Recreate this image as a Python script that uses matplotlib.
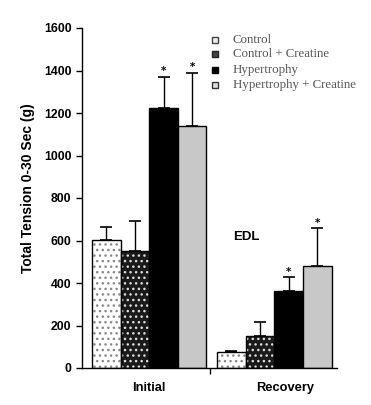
import matplotlib
matplotlib.use("Agg")
import matplotlib.pyplot as plt
from matplotlib.patches import Rectangle

groups = ["Initial", "Recovery"]
series = ["Control", "Control + Creatine", "Hypertrophy", "Hypertrophy + Creatine"]
initial_vals = [602, 552, 1222, 1140]
initial_err = [62, 141, 149, 250]
recovery_vals = [74, 152, 362, 481]
recovery_err = [6, 63, 65, 176]
initial_sig = [False, False, True, True]
recovery_sig = [False, False, True, True]
yticks = [0, 200, 400, 600, 800, 1000, 1200, 1400, 1600]

face = ["white", "#1a1a1a", "black", "#c8c8c8"]
hatch = ["...", "...", None, None]
hatchcol = ["#888888", "#dddddd", None, None]

fig = plt.figure(figsize=(3.71, 4.05), dpi=100)
ax = fig.add_axes([82/371, 1-368/405, 255/371, 340/405])
ax.set_xlim(0, 9)
ax.set_ylim(0, 1600)

starts = [0.353, 4.77]
w = 1.01
for g, (vals, errs, sig) in enumerate([(initial_vals, initial_err, initial_sig),
                                      (recovery_vals, recovery_err, recovery_sig)]):
    for i in range(4):
        x = starts[g] + w*i + w/2
        if hatch[i]:
            ax.bar(x, vals[i], width=w, color=face[i], edgecolor=hatchcol[i],
                   hatch=hatch[i], linewidth=0, zorder=2)
            ax.bar(x, vals[i], width=w, fill=False, edgecolor="black", linewidth=1, zorder=3)
        else:
            ax.bar(x, vals[i], width=w, color=face[i], edgecolor="black", linewidth=1, zorder=2)
        ax.errorbar(x, vals[i], yerr=[[0], [errs[i]]], fmt="none", ecolor="black",
                    elinewidth=1, capsize=4, capthick=1.2, zorder=4)
        if sig[i]:
            ax.text(x, vals[i] + errs[i] + 2, "*", ha="center", va="bottom",
                    fontsize=7.5, fontweight="bold", color="black")

for s in ["top", "right"]:
    ax.spines[s].set_visible(False)
for s in ["left", "bottom"]:
    ax.spines[s].set_linewidth(1)

ax.set_yticks(yticks)
ax.set_yticklabels([str(t) for t in yticks], fontsize=8.8, fontweight="bold",
                   family="Liberation Sans")
ax.tick_params(axis="y", direction="out", length=4, width=1)
ax.set_xticks([2.35, 7.17])
ax.set_xticklabels(groups, fontsize=9.3, fontweight="bold", family="Liberation Sans")
ax.tick_params(axis="x", length=0, pad=10)
ax.set_xticks([4.52], minor=True)
ax.tick_params(axis="x", which="minor", direction="out", length=4, width=1)
ax.set_ylabel("Total Tension 0-30 Sec (g)", fontsize=10, fontweight="bold",
              family="Liberation Sans")
ax.yaxis.set_label_coords(-47/255, 0.529)

ax.text(5.33, 616, "EDL", fontsize=9.5, fontweight="bold", family="Liberation Sans",
        ha="left", va="center")

# legend
leg_y = [40, 54, 70, 85]
for i, lab in enumerate(series):
    yc = 1 - leg_y[i]/405
    xc = 215/371
    sw, sh = 6/371, 6/405
    if i == 0:
        r = Rectangle((xc - sw/2, yc - sh/2), sw, sh, transform=fig.transFigure,
                      facecolor="#eeeeee", edgecolor="#444444", linewidth=1)
    elif i == 1:
        r = Rectangle((xc - sw/2, yc - sh/2), sw, sh, transform=fig.transFigure,
                      facecolor="#444444", edgecolor="#222222", linewidth=1)
    elif i == 2:
        r = Rectangle((xc - sw/2, yc - sh/2), sw, sh, transform=fig.transFigure,
                      facecolor="black", edgecolor="black", linewidth=1)
    else:
        r = Rectangle((xc - sw/2, yc - sh/2), sw, sh, transform=fig.transFigure,
                      facecolor="#dddddd", edgecolor="#333333", linewidth=1)
    fig.add_artist(r)
    fig.text(233/371, yc, lab, fontsize=9.3, family="Liberation Serif",
             color="#555555", ha="left", va="center")

fig.savefig("out.png", dpi=100)
